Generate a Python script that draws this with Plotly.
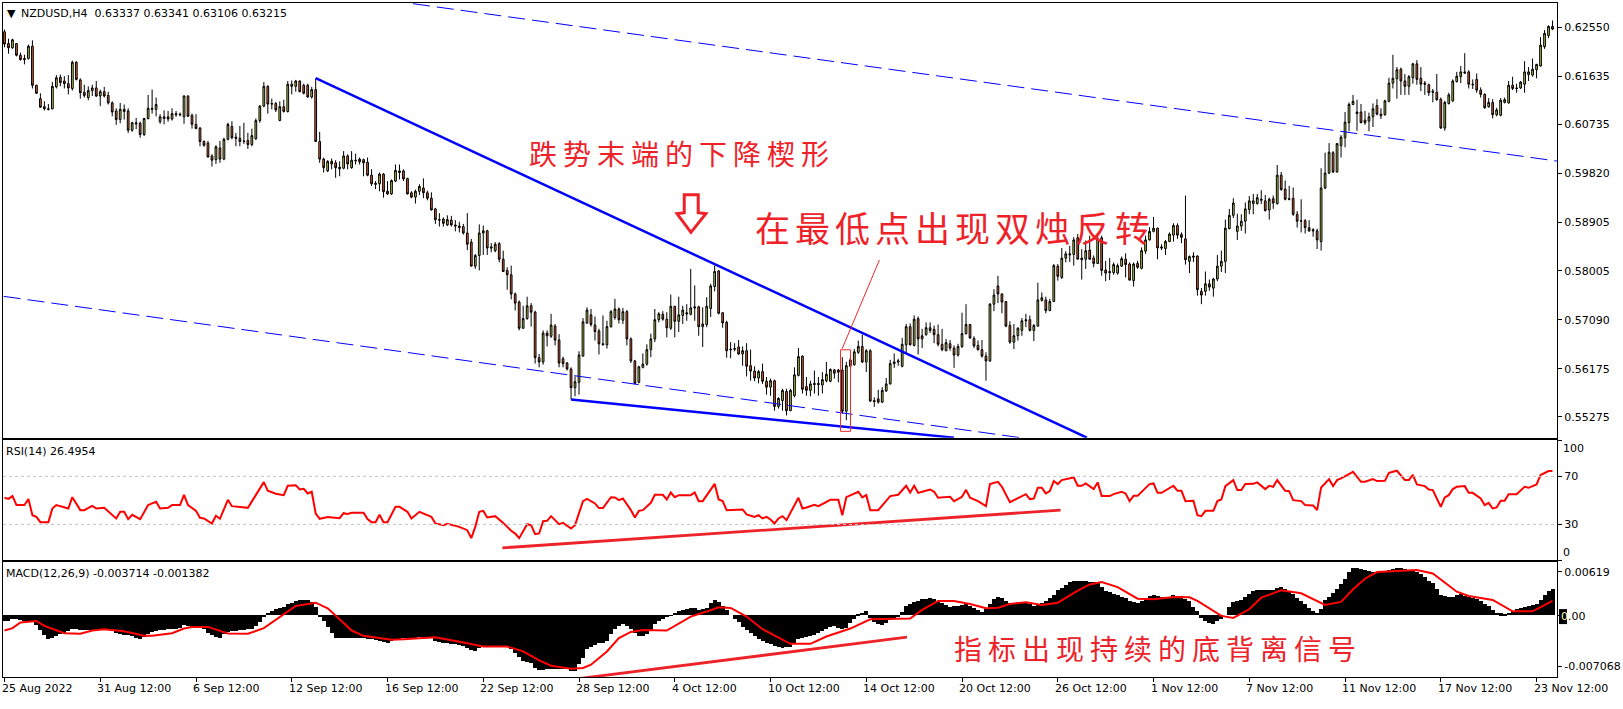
import plotly.graph_objects as go

# ---------- DATA (prices in pips of 0.0001) ----------
opens = [
6247,6225,6217,6225,6203,6197,6197,6220,6147,6122,
6107,6103,6103,6144,6162,6155,6150,6141,6190,6157,
6134,6124,6137,6142,6127,6135,6128,6114,6099,6083,
6102,6099,6063,6077,6076,6055,6085,6104,6102,6079,
6085,6088,6084,6094,6093,6088,6127,6091,6074,6067,
6042,6039,6015,6008,6030,6009,6046,6070,6050,6048,
6043,6044,6036,6047,6081,6108,6145,6113,6113,6081,
6107,6098,6145,6145,6155,6147,6147,6125,6139,6042,
6009,5987,6005,6002,5994,5992,6015,5993,6007,6009,
6008,6003,5979,5964,5963,5981,5949,5944,5968,5987,
5987,5973,5946,5938,5949,5955,5946,5936,5916,5896,
5897,5886,5895,5886,5884,5883,5871,5854,5809,5829,
5871,5875,5845,5838,5851,5822,5801,5793,5757,5742,
5693,5711,5735,5723,5638,5630,5684,5678,5697,5671,
5636,5628,5617,5582,5592,5641,5703,5718,5699,5688,
5664,5662,5696,5713,5729,5708,5724,5673,5632,5592,
5620,5626,5653,5673,5709,5719,5710,5693,5734,5706,
5717,5722,5719,5733,5733,5696,5700,5730,5771,5800,
5722,5704,5654,5655,5658,5645,5651,5623,5613,5600,
5612,5594,5583,5595,5547,5558,5575,5539,5567,5605,
5641,5584,5577,5590,5590,5587,5595,5594,5615,5615,
5615,5538,5622,5625,5648,5659,5630,5651,5558,5561,
5555,5576,5589,5627,5630,5622,5662,5696,5661,5711,
5673,5681,5694,5691,5681,5663,5651,5664,5656,5643,
5659,5683,5700,5674,5661,5653,5641,5632,5738,5772,
5757,5743,5698,5667,5679,5689,5709,5709,5689,5697,
5745,5746,5726,5743,5809,5788,5824,5830,5831,5862,
5824,5822,5839,5824,5814,5862,5802,5799,5797,5796,
5809,5822,5813,5782,5814,5805,5837,5858,5874,5880,
5845,5842,5855,5867,5885,5868,5860,5818,5828,5828,
5762,5762,5776,5768,5785,5809,5818,5879,5904,5874,
5884,5893,5915,5926,5926,5932,5931,5914,5935,5926,
5979,5953,5935,5936,5906,5894,5894,5881,5877,5875,
5855,5955,5983,6021,5985,6034,6049,6077,6111,6094,
6097,6082,6080,6088,6109,6093,6092,6117,6151,6159,
6177,6155,6145,6161,6187,6160,6151,6148,6136,6134,
6121,6067,6113,6118,6154,6163,6172,6172,6149,6158,
6138,6130,6107,6115,6092,6091,6115,6114,6147,6142,
6142,6149,6167,6166,6176,6183,6219,6240,6257]

highs = [
6251,6234,6234,6226,6208,6204,6223,6231,6148,6132,
6117,6112,6153,6166,6167,6164,6166,6193,6192,6160,
6148,6145,6148,6155,6139,6144,6135,6117,6104,6114,
6111,6104,6079,6086,6079,6086,6129,6139,6124,6093,
6100,6099,6104,6099,6096,6128,6128,6094,6093,6069,
6044,6043,6018,6035,6043,6049,6077,6080,6058,6071,
6077,6058,6066,6085,6110,6153,6147,6122,6116,6117,
6120,6155,6156,6157,6156,6150,6150,6144,6160,6060,
6012,6007,6010,6007,6005,6024,6018,6024,6019,6012,
6010,6012,5990,5968,5984,5983,5968,5971,5999,5999,
5990,5974,5949,5952,5962,5973,5950,5947,5918,5908,
5900,5904,5903,5895,5892,5888,5908,5860,5832,5887,
5885,5877,5852,5854,5854,5838,5807,5810,5760,5745,
5735,5752,5740,5726,5645,5689,5689,5720,5701,5682,
5640,5630,5620,5603,5650,5712,5732,5729,5715,5692,
5717,5707,5727,5748,5732,5731,5727,5676,5634,5623,
5646,5663,5683,5729,5723,5725,5723,5756,5735,5752,
5735,5738,5804,5773,5735,5732,5751,5776,5810,5802,
5723,5707,5667,5665,5671,5659,5665,5653,5622,5615,
5627,5602,5599,5597,5564,5580,5580,5580,5620,5656,
5642,5602,5595,5614,5602,5611,5630,5618,5617,5617,
5639,5630,5639,5654,5670,5681,5654,5654,5564,5578,
5583,5600,5634,5646,5636,5675,5701,5702,5717,5715,
5692,5704,5704,5698,5700,5692,5673,5671,5661,5664,
5722,5738,5701,5678,5670,5671,5648,5740,5766,5791,
5758,5743,5706,5701,5695,5712,5720,5717,5701,5778,
5760,5752,5748,5813,5813,5843,5837,5847,5863,5869,
5841,5857,5866,5829,5871,5866,5819,5824,5816,5814,
5827,5833,5816,5816,5819,5844,5866,5882,5901,5881,
5850,5858,5872,5889,5889,5872,5941,5829,5835,5829,
5768,5799,5784,5787,5830,5838,5896,5916,5936,5907,
5906,5928,5940,5944,5944,5951,5942,5937,5941,5998,
5985,5969,5959,5956,5912,5934,5897,5895,5880,5879,
5992,6021,6039,6024,6039,6054,6097,6115,6129,6120,
6112,6099,6096,6113,6121,6104,6120,6161,6204,6181,
6180,6168,6166,6189,6194,6181,6155,6150,6140,6168,
6124,6118,6133,6158,6172,6183,6207,6175,6158,6169,
6143,6132,6123,6121,6105,6123,6124,6155,6163,6150,
6155,6192,6181,6197,6187,6237,6250,6259,6268]

lows = [
6218,6206,6215,6201,6193,6186,6195,6141,6131,6105,
6100,6100,6102,6141,6145,6141,6130,6137,6156,6122,
6124,6119,6127,6125,6108,6124,6111,6089,6073,6076,
6083,6058,6060,6065,6049,6052,6083,6094,6089,6075,
6074,6079,6081,6088,6089,6075,6088,6066,6065,6033,
6032,6012,5995,6000,6002,6007,6044,6046,6033,6033,
6037,6028,6033,6045,6077,6106,6094,6102,6097,6080,
6096,6096,6130,6135,6134,6130,6124,6122,6042,6002,
5984,5985,5990,5974,5977,5990,5990,5991,5999,5999,
5977,5977,5959,5953,5949,5937,5942,5942,5966,5971,
5968,5943,5936,5926,5942,5936,5932,5913,5888,5883,
5883,5884,5883,5874,5872,5868,5839,5809,5804,5801,
5830,5830,5835,5835,5816,5798,5765,5747,5726,5689,
5692,5709,5696,5627,5620,5625,5659,5675,5661,5620,
5620,5614,5560,5566,5569,5640,5701,5696,5670,5644,
5662,5655,5694,5709,5702,5701,5661,5628,5588,5590,
5618,5623,5639,5667,5704,5707,5676,5690,5676,5686,
5701,5707,5717,5707,5679,5658,5695,5714,5762,5719,
5694,5638,5637,5650,5643,5623,5603,5595,5594,5590,
5589,5569,5567,5539,5543,5539,5530,5538,5564,5603,
5571,5567,5566,5571,5567,5571,5592,5592,5599,5592,
5533,5521,5620,5623,5645,5628,5611,5555,5546,5552,
5553,5574,5588,5619,5623,5620,5645,5661,5659,5644,
5656,5679,5684,5665,5659,5650,5650,5651,5619,5640,
5656,5681,5673,5656,5651,5638,5595,5630,5725,5740,
5721,5695,5664,5654,5670,5679,5695,5687,5669,5696,
5743,5721,5725,5742,5782,5785,5816,5817,5810,5822,
5784,5804,5821,5807,5813,5791,5781,5783,5793,5793,
5808,5788,5782,5771,5804,5803,5832,5857,5872,5822,
5839,5830,5854,5855,5860,5852,5812,5796,5817,5754,
5738,5754,5763,5752,5781,5798,5796,5878,5899,5858,
5875,5870,5906,5906,5924,5925,5911,5896,5916,5924,
5950,5932,5932,5903,5881,5872,5870,5873,5864,5841,
5838,5953,5981,5983,5984,6012,6031,6061,6110,6062,
6076,6073,6061,6069,6091,6084,6090,6115,6141,6122,
6129,6129,6129,6150,6148,6136,6129,6127,6115,6118,
6066,6062,6111,6116,6152,6151,6168,6141,6140,6133,
6124,6103,6105,6085,6089,6089,6113,6113,6138,6133,
6140,6133,6155,6163,6160,6182,6215,6235,6250]

closes = [
6224,6217,6232,6203,6195,6195,6220,6147,6132,6106,
6103,6102,6145,6161,6152,6150,6142,6190,6158,6133,
6128,6137,6142,6127,6135,6127,6114,6097,6083,6102,
6098,6063,6077,6075,6055,6085,6104,6102,6111,6088,
6088,6084,6094,6092,6092,6127,6089,6074,6066,6042,
6035,6013,6007,6032,6009,6046,6074,6049,6048,6042,
6042,6036,6053,6081,6108,6145,6112,6112,6101,6107,
6098,6149,6149,6155,6135,6132,6125,6139,6042,6009,
5993,6005,6000,5993,5991,6015,6000,6007,6006,6004,
6002,5979,5963,5962,5981,5948,5944,5969,5988,5984,
5972,5944,5938,5949,5958,5946,5936,5914,5896,5895,
5889,5896,5886,5884,5881,5871,5850,5809,5829,5871,
5875,5843,5843,5850,5822,5799,5793,5757,5740,5693,
5711,5735,5723,5638,5630,5684,5679,5699,5671,5628,
5627,5617,5582,5593,5643,5705,5727,5700,5687,5664,
5662,5696,5724,5729,5709,5724,5673,5632,5590,5621,
5626,5653,5673,5709,5720,5710,5694,5734,5706,5718,
5727,5720,5731,5731,5696,5701,5734,5772,5799,5721,
5703,5651,5653,5654,5645,5651,5622,5613,5600,5612,
5594,5583,5595,5547,5562,5577,5539,5577,5606,5640,
5579,5577,5589,5588,5588,5597,5607,5616,5609,5611,
5538,5623,5634,5649,5659,5630,5651,5557,5556,5555,
5577,5589,5627,5630,5632,5663,5696,5662,5710,5673,
5679,5694,5689,5681,5663,5653,5666,5656,5643,5659,
5683,5700,5675,5660,5653,5641,5632,5738,5755,5757,
5742,5697,5667,5679,5693,5707,5707,5689,5698,5746,
5750,5726,5743,5810,5790,5824,5832,5832,5858,5822,
5821,5838,5822,5814,5860,5801,5796,5797,5812,5810,
5823,5812,5783,5813,5807,5838,5858,5874,5880,5843,
5843,5855,5869,5885,5867,5863,5821,5827,5826,5765,
5755,5776,5770,5785,5809,5818,5880,5904,5927,5884,
5893,5916,5931,5931,5937,5934,5913,5934,5927,5979,
5952,5934,5934,5906,5893,5893,5881,5875,5875,5858,
5955,5983,6022,5985,6038,6050,6078,6111,6117,6097,
6077,6077,6088,6103,6093,6090,6118,6151,6160,6176,
6155,6145,6163,6187,6158,6149,6149,6133,6134,6120,
6067,6115,6129,6155,6164,6172,6170,6149,6148,6138,
6130,6105,6115,6092,6101,6119,6120,6147,6141,6141,
6153,6172,6172,6177,6186,6222,6244,6257,6252]

# RSI read at its vertices: bar number and value
rsi_bars = [
0,1,2,3,5,6,7,8,9,11,12,13,16,17,19,20,22,23,25,27,28,29,30,31,32,34,36,37,38,39,41,42,44,45,46,48,49,50,52,53,54,56,57,61,63,65,66,68,70,71,73,74,75,76,77,78,79,81,84,85,86,87,90,91,92,93,94,95,96,98,99,101,102,104,107,108,110,111,114,116,117,118,119,120,121,123,125,126,127,128,129,131,132,133,
134,135,136,137,139,140,142,143,145,146,148,149,150,152,153,154,155,157,158,159,160,162,163,165,166,167,168,169,172,173,174,175,178,179,180,181,184,185,186,188,189,190,191,192,193,194,195,196,199,200,201,203,204,207,209,210,211,214,215,216,217,219,222,224,226,227,228,229,230,232,233,234,237,238,240,241,242,244,246,247,249,250,252,256,257,258,259,260,261,262,263,264,265,268,
269,270,271,273,274,275,277,278,280,281,282,283,284,286,287,288,289,290,293,294,295,296,298,299,300,301,303,304,305,306,308,309,310,311,313,314,316,317,318,319,321,322,323,325,326,328,329,330,332,333,334,335,338,340,341,343,344,346,347,349,351,352,353,354,356,357,358,360,361,362,363,364,366,367,368,370,371,372,373,374,375,376,377,379,381,382,384,385,387,388]
rsi_values = [
52.2,51.3,53.6,46.1,46.1,51.1,37.7,36.3,31.9,31.9,43.3,46.1,43.3,52.7,41.9,41.9,45.5,43.3,43.8,37.7,35.0,40.5,40.5,34.4,38.0,34.4,46.1,47.5,48.8,43.3,43.8,46.1,46.1,54.7,46.1,41.3,35.5,35.0,30.8,37.2,34.7,50.5,45.2,43.8,54.4,65.2,58.0,55.5,54.4,62.2,62.7,59.1,59.7,55.8,57.2,39.1,34.7,36.1,35.2,39.4,38.8,39.7,39.7,34.4,31.9,31.9,38.0,31.9,31.9,44.7,44.7,40.5,35.0,40.5,36.3,30.8,29.4,30.5,28.0,25.2,18.6,28.0,40.5,41.3,35.8,36.9,31.3,28.0,24.7,22.4,18.6,30.2,29.4,21.9,
22.5,32.7,33.0,36.9,30.2,31.3,26.6,29.4,49.4,51.3,47.5,43.6,43.6,52.7,52.5,50.2,51.6,41.9,35.8,41.3,41.9,48.0,54.7,54.7,50.8,56.6,52.7,54.4,54.4,56.6,49.4,49.4,63.8,50.8,49.4,41.9,41.9,42.5,38.3,36.3,37.7,35.0,36.3,34.1,30.8,35.0,36.9,33.6,52.2,43.3,44.1,46.3,45.2,50.5,50.5,37.7,52.7,57.2,52.5,54.4,41.9,41.9,53.6,54.7,62.2,56.6,62.2,56.3,57.2,59.1,57.2,52.2,53.0,49.4,53.0,58.8,52.2,49.4,45.2,63.6,65.5,61.3,48.6,55.2,51.1,51.6,60.5,60.5,55.8,57.7,66.1,63.6,66.9,69.1,
62.2,62.2,64.1,59.4,65.0,53.6,53.6,55.2,57.2,55.8,49.4,53.8,53.8,60.5,63.6,64.1,56.3,56.3,62.2,58.0,58.0,49.4,49.7,37.7,36.9,41.3,41.3,49.4,50.8,61.9,66.9,58.6,58.6,63.6,63.8,65.0,59.4,62.2,61.3,66.9,58.0,57.7,50.2,49.4,46.1,45.8,41.9,60.8,67.7,61.9,66.9,68.3,73.8,65.5,65.5,67.7,66.1,66.3,73.0,74.7,66.9,66.9,71.3,63.3,61.9,59.1,58.6,44.7,52.5,54.4,59.4,61.3,61.9,56.3,56.3,51.6,46.1,48.0,43.3,44.1,49.7,49.7,55.2,55.2,61.3,60.5,63.3,71.1,74.4,74.4]

# MACD main histogram per bar, in units of 0.00001
macd_hist = [
-84,-75,-56,-56,-65,-79,-84,-75,-140,-205,
-279,-331,-317,-289,-265,-242,-219,-196,-186,-205,
-210,-205,-205,-200,-191,-186,-205,-224,-251,-261,
-270,-279,-289,-317,-326,-298,-265,-228,-214,-205,
-205,-196,-196,-186,-172,-140,-149,-158,-149,-149,
-196,-251,-279,-298,-317,-261,-233,-219,-214,-210,
-205,-196,-186,-149,-93,-19,37,65,84,102,
121,154,177,200,214,219,214,186,121,-9,
-84,-158,-242,-312,-312,-312,-312,-312,-312,-317,
-321,-331,-335,-345,-354,-368,-382,-359,-335,-326,
-312,-312,-312,-312,-307,-303,-303,-303,-359,-377,
-382,-391,-396,-405,-414,-428,-452,-489,-498,-452,
-438,-438,-438,-438,-438,-438,-438,-475,-522,-577,
-638,-652,-661,-731,-764,-764,-754,-745,-745,-745,
-745,-754,-778,-778,-685,-591,-466,-438,-419,-391,
-382,-359,-265,-196,-149,-126,-149,-196,-242,-289,
-289,-265,-219,-126,-75,-56,-19,5,37,61,
70,84,98,107,75,84,107,168,210,186,
130,75,0,-47,-93,-158,-205,-242,-289,-326,
-359,-382,-405,-428,-447,-456,-447,-438,-382,-326,
-317,-307,-289,-275,-251,-219,-186,-158,-149,-172,
-196,-172,-112,-56,14,37,56,-33,-93,-126,
-135,-102,-65,-37,-9,47,130,163,186,200,
224,233,242,233,191,168,144,121,126,130,
140,154,130,102,75,47,93,154,224,256,
251,200,177,177,177,177,172,154,130,140,
177,200,247,293,354,386,433,466,489,489,
489,480,475,470,456,405,349,326,303,293,
265,242,200,186,177,200,242,270,289,270,
256,256,265,293,279,270,233,196,116,56,
-37,-84,-112,-116,-84,-47,0,116,186,205,
219,256,303,340,363,363,359,359,363,382,
396,373,349,303,247,200,163,102,56,33,
93,210,256,317,373,442,512,605,661,666,
652,638,624,615,615,619,629,643,652,666,
661,652,643,629,615,577,536,489,452,373,
293,270,256,265,289,303,279,256,242,224,
196,163,126,79,37,28,23,37,61,84,
102,116,130,149,163,210,289,349,373]

# MACD signal line read at its vertices, in units of 0.00001
signal_bars = [
0,2,4,8,10,15,19,22,25,30,35,37,42,45,47,51,56,61,65,69,73,78,81,84,87,90,97,100,104,108,115,120,126,130,133,
134,137,139,142,145,147,151,154,157,160,166,169,172,176,179,182,186,190,197,202,206,212,217,227,230,234,238,242,246,249,252,256,260,264,269,
272,275,279,284,288,293,297,299,305,308,312,315,320,325,331,335,338,341,344,350,354,358,364,367,373,378,383,388]
signal_values = [
-205,-172,-93,-70,-140,-242,-251,-205,-186,-214,-279,-279,-242,-177,-154,-154,-247,-251,-172,-19,140,186,107,-47,-205,-279,-335,-326,-317,-298,-373,-428,-428,-498,-591,
-624,-699,-713,-740,-731,-685,-498,-312,-224,-196,-205,-112,-9,61,121,112,-9,-186,-391,-391,-289,-177,-47,-37,84,210,210,168,107,116,168,191,154,186,354,
442,475,405,242,233,265,261,210,0,-28,93,256,359,317,154,196,373,522,615,633,643,596,340,279,224,65,65,210]

# Drawn trend lines: bar number and axis value at both ends
wedge_top_bars = [78, 271.3]
wedge_top_pips = [6160.2, 5488.6]
wedge_low_bars = [142, 238]
wedge_low_pips = [5560, 5488.6]
channel_top_bars = [102.4, 389.1]
channel_top_pips = [6299.4, 6005.4]
channel_low_bars = [-0.2, 254.6]
channel_low_pips = [5752.6, 5488.6]
rsi_trend_bars = [124.8, 264.7]
rsi_trend_values = [10.5, 41.9]
macd_trend_bars = [141.9, 226.2]
macd_trend_values = [-894, -298]

# Axis ticks
price_ticks = [0.62550, 0.61635, 0.60735, 0.59820, 0.58905, 0.58005, 0.57090, 0.56175, 0.55275]
price_labels = ["0.62550", "0.61635", "0.60735", "0.59820", "0.58905", "0.58005", "0.57090", "0.56175", "0.55275"]
rsi_ticks = [0, 30, 70, 100]
rsi_labels = ["", "30", "70", ""]
macd_ticks = [0.00619, 0, -0.007068]
macd_labels = ["0.00619", "", "-0.007068"]
date_bars = [0, 24, 48, 72, 96, 120, 144, 168, 192, 216, 240, 264, 288, 312, 336, 360, 384]
date_labels = ["25 Aug 2022", "31 Aug 12:00", "6 Sep 12:00", "12 Sep 12:00", "16 Sep 12:00",
               "22 Sep 12:00", "28 Sep 12:00", "4 Oct 12:00", "10 Oct 12:00", "14 Oct 12:00",
               "20 Oct 12:00", "26 Oct 12:00", "1 Nov 12:00", "7 Nov 12:00", "11 Nov 12:00",
               "17 Nov 12:00", "23 Nov 12:00"]

assert len(opens) == len(highs) == len(lows) == len(closes) == len(macd_hist) == 389, (
    len(opens), len(highs), len(lows), len(closes), len(macd_hist))
assert len(rsi_bars) == len(rsi_values), (len(rsi_bars), len(rsi_values))
assert len(signal_bars) == len(signal_values), (len(signal_bars), len(signal_values))

# ---------- LAYOUT HELPERS ----------
W, H = 1623, 709
ML, MR, MT, MB = 2, 63, 2, 32
PW, PH = W - ML - MR, H - MT - MB
BAR_L, BAR_R = -0.375, 389.125

def px(x):
    return (x - ML) / PW

def py(y):
    return (H - MB - y) / PH

def pips(seq):
    return [v / 1e4 for v in seq]

def e5(seq):
    return [v / 1e5 for v in seq]

RED = "#ee2229"
BLUE = "#0000ff"
FONT = "DejaVu Sans"
CJK = "Noto Sans CJK SC"
bars = list(range(len(closes)))

fig = go.Figure()

fig.add_trace(go.Candlestick(
    x=bars, open=pips(opens), high=pips(highs), low=pips(lows), close=pips(closes),
    whiskerwidth=0, xaxis="x", yaxis="y",
    increasing=dict(fillcolor="#b9c94c", line=dict(color="#000000", width=1)),
    decreasing=dict(fillcolor="#dd6230", line=dict(color="#000000", width=1)),
))

def line(xs, ys, color, width, xa, ya, dash=None, clip=True):
    fig.add_trace(go.Scatter(x=xs, y=ys, mode="lines", xaxis=xa, yaxis=ya, cliponaxis=clip,
                             line=dict(color=color, width=width, dash=dash)))

line(wedge_top_bars, pips(wedge_top_pips), BLUE, 2.5, "x", "y")
line(wedge_low_bars, pips(wedge_low_pips), BLUE, 2.5, "x", "y")
line(channel_top_bars, pips(channel_top_pips), BLUE, 1, "x", "y", "17px,7px")
line(channel_low_bars, pips(channel_low_pips), BLUE, 1, "x", "y", "17px,7px")

line(rsi_bars, rsi_values, "#ff0000", 2, "x2", "y2")
line(rsi_trend_bars, rsi_trend_values, RED, 2.8, "x2", "y2")

fig.add_trace(go.Bar(x=bars, y=e5(macd_hist), xaxis="x3", yaxis="y3", width=1,
                     marker=dict(color="#000000", line=dict(width=0))))
line(signal_bars, e5(signal_values), "#ff0000", 2, "x3", "y3")
line(macd_trend_bars, e5(macd_trend_values), RED, 2.8, "x3", "y3", clip=False)

axis_common = dict(showgrid=False, zeroline=False, showline=True, mirror=True,
                   linecolor="#000000", linewidth=1, color="#000000",
                   tickfont=dict(family=FONT, size=11, color="#000000"))
x_common = dict(axis_common, range=[BAR_L, BAR_R], domain=[0, 1], rangeslider=dict(visible=False))

y_common = dict(axis_common, side="right", ticks="outside", ticklen=4, tickcolor="#000000", tickwidth=1)

annotations = []

def text(x, y, s, size=11, color="#000000", family=FONT, xref="paper", anchor="left", xshift=0):
    annotations.append(dict(x=x, y=y, xref=xref, yref="paper", text=s, showarrow=False,
                            xanchor=anchor, yanchor="middle", xshift=xshift, borderpad=0,
                            font=dict(family=family, size=size, color=color)))

for b, label in zip(date_bars, date_labels):
    text(b, py(688.5), label, xref="x3", xshift=-4)

text(px(5), py(12.7), "▼", size=11)
text(px(18.7), py(12.7), "NZDUSD,H4\u00a0\u00a00.63337\u00a00.63341\u00a00.63106\u00a00.63215")
text(px(4), py(450.7), "RSI(14)\u00a026.4954")
text(px(4), py(573.3), "MACD(12,26,9)\u00a0-0.003714\u00a0-0.001382")
text(px(1565), py(448), "100")
text(px(1565), py(552.7), "0")
text(px(1563), py(616), "0", color="#fff7c0")
text(px(1570), py(616), ".00")
# Chinese captions: wide tracking is applied after drawing, so x allows for half of it
text(px(555), py(152), "跌势末端的下降楔形", size=28, color=RED, family=CJK)
text(px(780), py(226), "在最低点出现双烛反转", size=35, color=RED, family=CJK)
text(px(991), py(648), "指标出现持续的底背离信号", size=28, color=RED, family=CJK)

def path(points):
    return "M " + " L ".join(f"{px(x):.5f},{py(y):.5f}" for x, y in points) + " Z"

shapes = [
    # RSI levels
    dict(type="line", xref="x2", yref="y2", x0=BAR_L, x1=BAR_R, y0=70, y1=70,
         line=dict(color="#c4c4c4", width=1, dash="3px,3px")),
    dict(type="line", xref="x2", yref="y2", x0=BAR_L, x1=BAR_R, y0=30, y1=30,
         line=dict(color="#c4c4c4", width=1, dash="3px,3px")),
    # callout box and leader line
    dict(type="rect", xref="paper", yref="paper", x0=px(841.7), x1=px(851.7), y0=py(431), y1=py(349.3),
         line=dict(color="#f02a2a", width=1), fillcolor="rgba(0,0,0,0)"),
    dict(type="line", xref="paper", yref="paper", x0=px(843.3), x1=px(880.7), y0=py(348.3), y1=py(259.3),
         line=dict(color="#f02a2a", width=1)),
    # hollow down arrow
    dict(type="path", xref="paper", yref="paper",
         path=path([(685, 194), (699, 194), (699, 212), (706.7, 213), (691.7, 231.7), (677.7, 213), (685, 212)]),
         line=dict(color=RED, width=3), fillcolor="rgba(0,0,0,0)"),
    # black current-value flag on the MACD scale
    dict(type="rect", xref="paper", yref="paper", x0=px(1562), x1=px(1570), y0=py(624), y1=py(609),
         line=dict(width=0), fillcolor="#000000"),
]

fig.update_layout(
    width=W, height=H, showlegend=False, autosize=False,
    paper_bgcolor="#ffffff", plot_bgcolor="#ffffff",
    margin=dict(l=ML, r=MR, t=MT, b=MB, pad=0),
    boxgap=0.38, bargap=0, hovermode=False,
    annotations=annotations, shapes=shapes,
    xaxis=dict(x_common, anchor="y", showticklabels=False, ticks=""),
    xaxis2=dict(x_common, anchor="y2", showticklabels=False, ticks=""),
    xaxis3=dict(x_common, anchor="y3", tickmode="array", tickvals=date_bars, ticktext=[""] * len(date_bars),
                ticks="outside", ticklen=4, tickcolor="#000000"),
    yaxis=dict(y_common, anchor="x", domain=[py(437.3), py(2)], range=[0.54886, 0.63007],
               tickmode="array", tickvals=price_ticks, ticktext=price_labels),
    yaxis2=dict(y_common, anchor="x2", domain=[py(560.3), py(440)], range=[0, 100],
                tickmode="array", tickvals=rsi_ticks, ticktext=rsi_labels),
    yaxis3=dict(y_common, anchor="x3", domain=[0, py(562.3)], range=[-0.00857, 0.0075],
                tickmode="array", tickvals=macd_ticks, ticktext=macd_labels),
)

post = """
document.body.style.margin = '0';
document.querySelectorAll('.annotation-text').forEach(function (t) {
  var s = t.textContent;
  if (/[\\u4e00-\\u9fff]/.test(s)) {
    t.style.letterSpacing = (s.length === 10 ? '5px' : '6px');
  }
});
"""
fig.write_html("out.html", post_script=post, config=dict(displayModeBar=False))
